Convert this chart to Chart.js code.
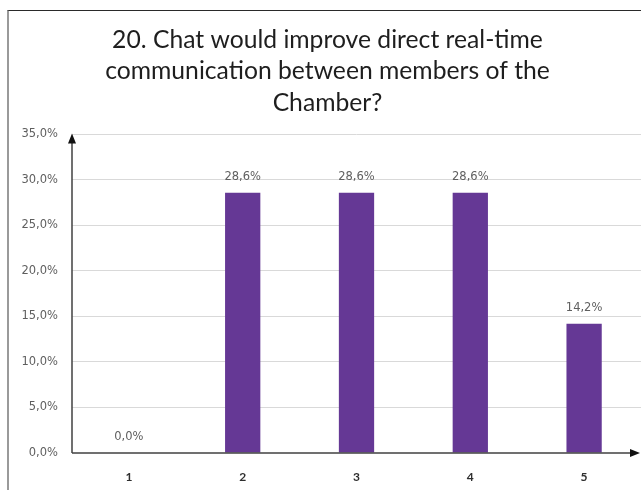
<!DOCTYPE html>
<html>
<head>
<meta charset="utf-8">
<script src="https://cdn.jsdelivr.net/npm/chart.js@4/dist/chart.umd.min.js"></script>
<style>
    html, body { margin: 0; padding: 0; background: #fff; }
    #wrap { position: relative; width: 641px; height: 490px; overflow: hidden; }
    #frame { position: absolute; left: 7px; top: 10px; right: -5px; bottom: -5px;
             border-top: 1.5px solid #2a2a2a; border-left: 2px solid #9a9a9a; }
    #chart { position: absolute; left: 0; top: 0; }
</style>
</head>
<body>
<div id="wrap">
    <div id="frame"></div>
    <canvas id="chart" width="641" height="490"></canvas>
</div>
<script>
// Chart data
const categories = ['1', '2', '3', '4', '5'];
const values = [0.0, 28.6, 28.6, 28.6, 14.2];
const valueLabels = ['0,0%', '28,6%', '28,6%', '28,6%', '14,2%'];
const titleLines = [
    '20. Chat would improve direct real-time',
    'communication between members of the',
    'Chamber?'
];

const barColor = '#653895';
const axisColor = '#404040';
const labelFont = '"DejaVu Sans"';

// Draws the value labels above each bar
const valueLabelPlugin = {
    id: 'valueLabels',
    afterDatasetsDraw(chart) {
        const ctx = chart.ctx;
        const meta = chart.getDatasetMeta(0);
        ctx.save();
        ctx.font = '11.5px ' + labelFont;
        ctx.fillStyle = '#5f5f5f';
        ctx.textAlign = 'center';
        ctx.textBaseline = 'middle';
        meta.data.forEach((bar, i) => {
            ctx.fillText(valueLabels[i], bar.x, bar.y - 16);
        });
        ctx.restore();
    }
};

// Axes with arrow heads
const arrowAxesPlugin = {
    id: 'arrowAxes',
    afterDraw(chart) {
        const ctx = chart.ctx;
        const area = chart.chartArea;
        ctx.save();
        ctx.strokeStyle = axisColor;
        ctx.fillStyle = '#111';
        ctx.lineWidth = 1.5;

        // y axis
        ctx.beginPath();
        ctx.moveTo(area.left, area.bottom);
        ctx.lineTo(area.left, area.top + 6);
        ctx.stroke();
        ctx.beginPath();
        ctx.moveTo(area.left, area.top - 1);
        ctx.lineTo(area.left - 4, area.top + 9);
        ctx.lineTo(area.left + 4, area.top + 9);
        ctx.closePath();
        ctx.fill();

        // x axis
        ctx.beginPath();
        ctx.moveTo(area.left, area.bottom);
        ctx.lineTo(area.right - 8, area.bottom);
        ctx.stroke();
        ctx.beginPath();
        ctx.moveTo(area.right - 1, area.bottom);
        ctx.lineTo(area.right - 11, area.bottom - 4);
        ctx.lineTo(area.right - 11, area.bottom + 4);
        ctx.closePath();
        ctx.fill();
        ctx.restore();
    }
};

new Chart(document.getElementById('chart'), {
    type: 'bar',
    data: {
        labels: categories,
        datasets: [{
            data: values,
            backgroundColor: barColor,
            barPercentage: 0.31,
            categoryPercentage: 1.0
        }]
    },
    options: {
        responsive: false,
        animation: false,
        layout: {
            padding: { top: 14, left: 14, right: 0, bottom: 0 }
        },
        plugins: {
            legend: { display: false },
            tooltip: { enabled: false },
            title: {
                display: true,
                text: titleLines,
                color: '#1e1e1e',
                font: { family: 'Lato', size: 24.7, weight: 'normal', lineHeight: 1.275 },
                padding: { top: 10, bottom: 16 }
            }
        },
        scales: {
            x: {
                afterFit(scale) { scale.height = 37; },
                grid: { display: false, drawTicks: false },
                border: { display: false },
                ticks: {
                    color: '#2e2e2e',
                    padding: 17,
                    font: { family: 'Lato', size: 12, weight: 'bold' }
                }
            },
            y: {
                min: 0,
                max: 35,
                afterFit(scale) { scale.width = 58; },
                grid: {
                    color: (c) => c.tick.value === 0 ? 'rgba(0,0,0,0)' : '#d9d9d9',
                    lineWidth: 1,
                    drawTicks: false
                },
                border: { display: false },
                ticks: {
                    stepSize: 5,
                    padding: 14,
                    color: '#5f5f5f',
                    font: { family: labelFont, size: 11.5 },
                    callback: (v) => v.toFixed(1).replace('.', ',') + '%'
                }
            }
        }
    },
    plugins: [valueLabelPlugin, arrowAxesPlugin]
});
</script>
</body>
</html>
